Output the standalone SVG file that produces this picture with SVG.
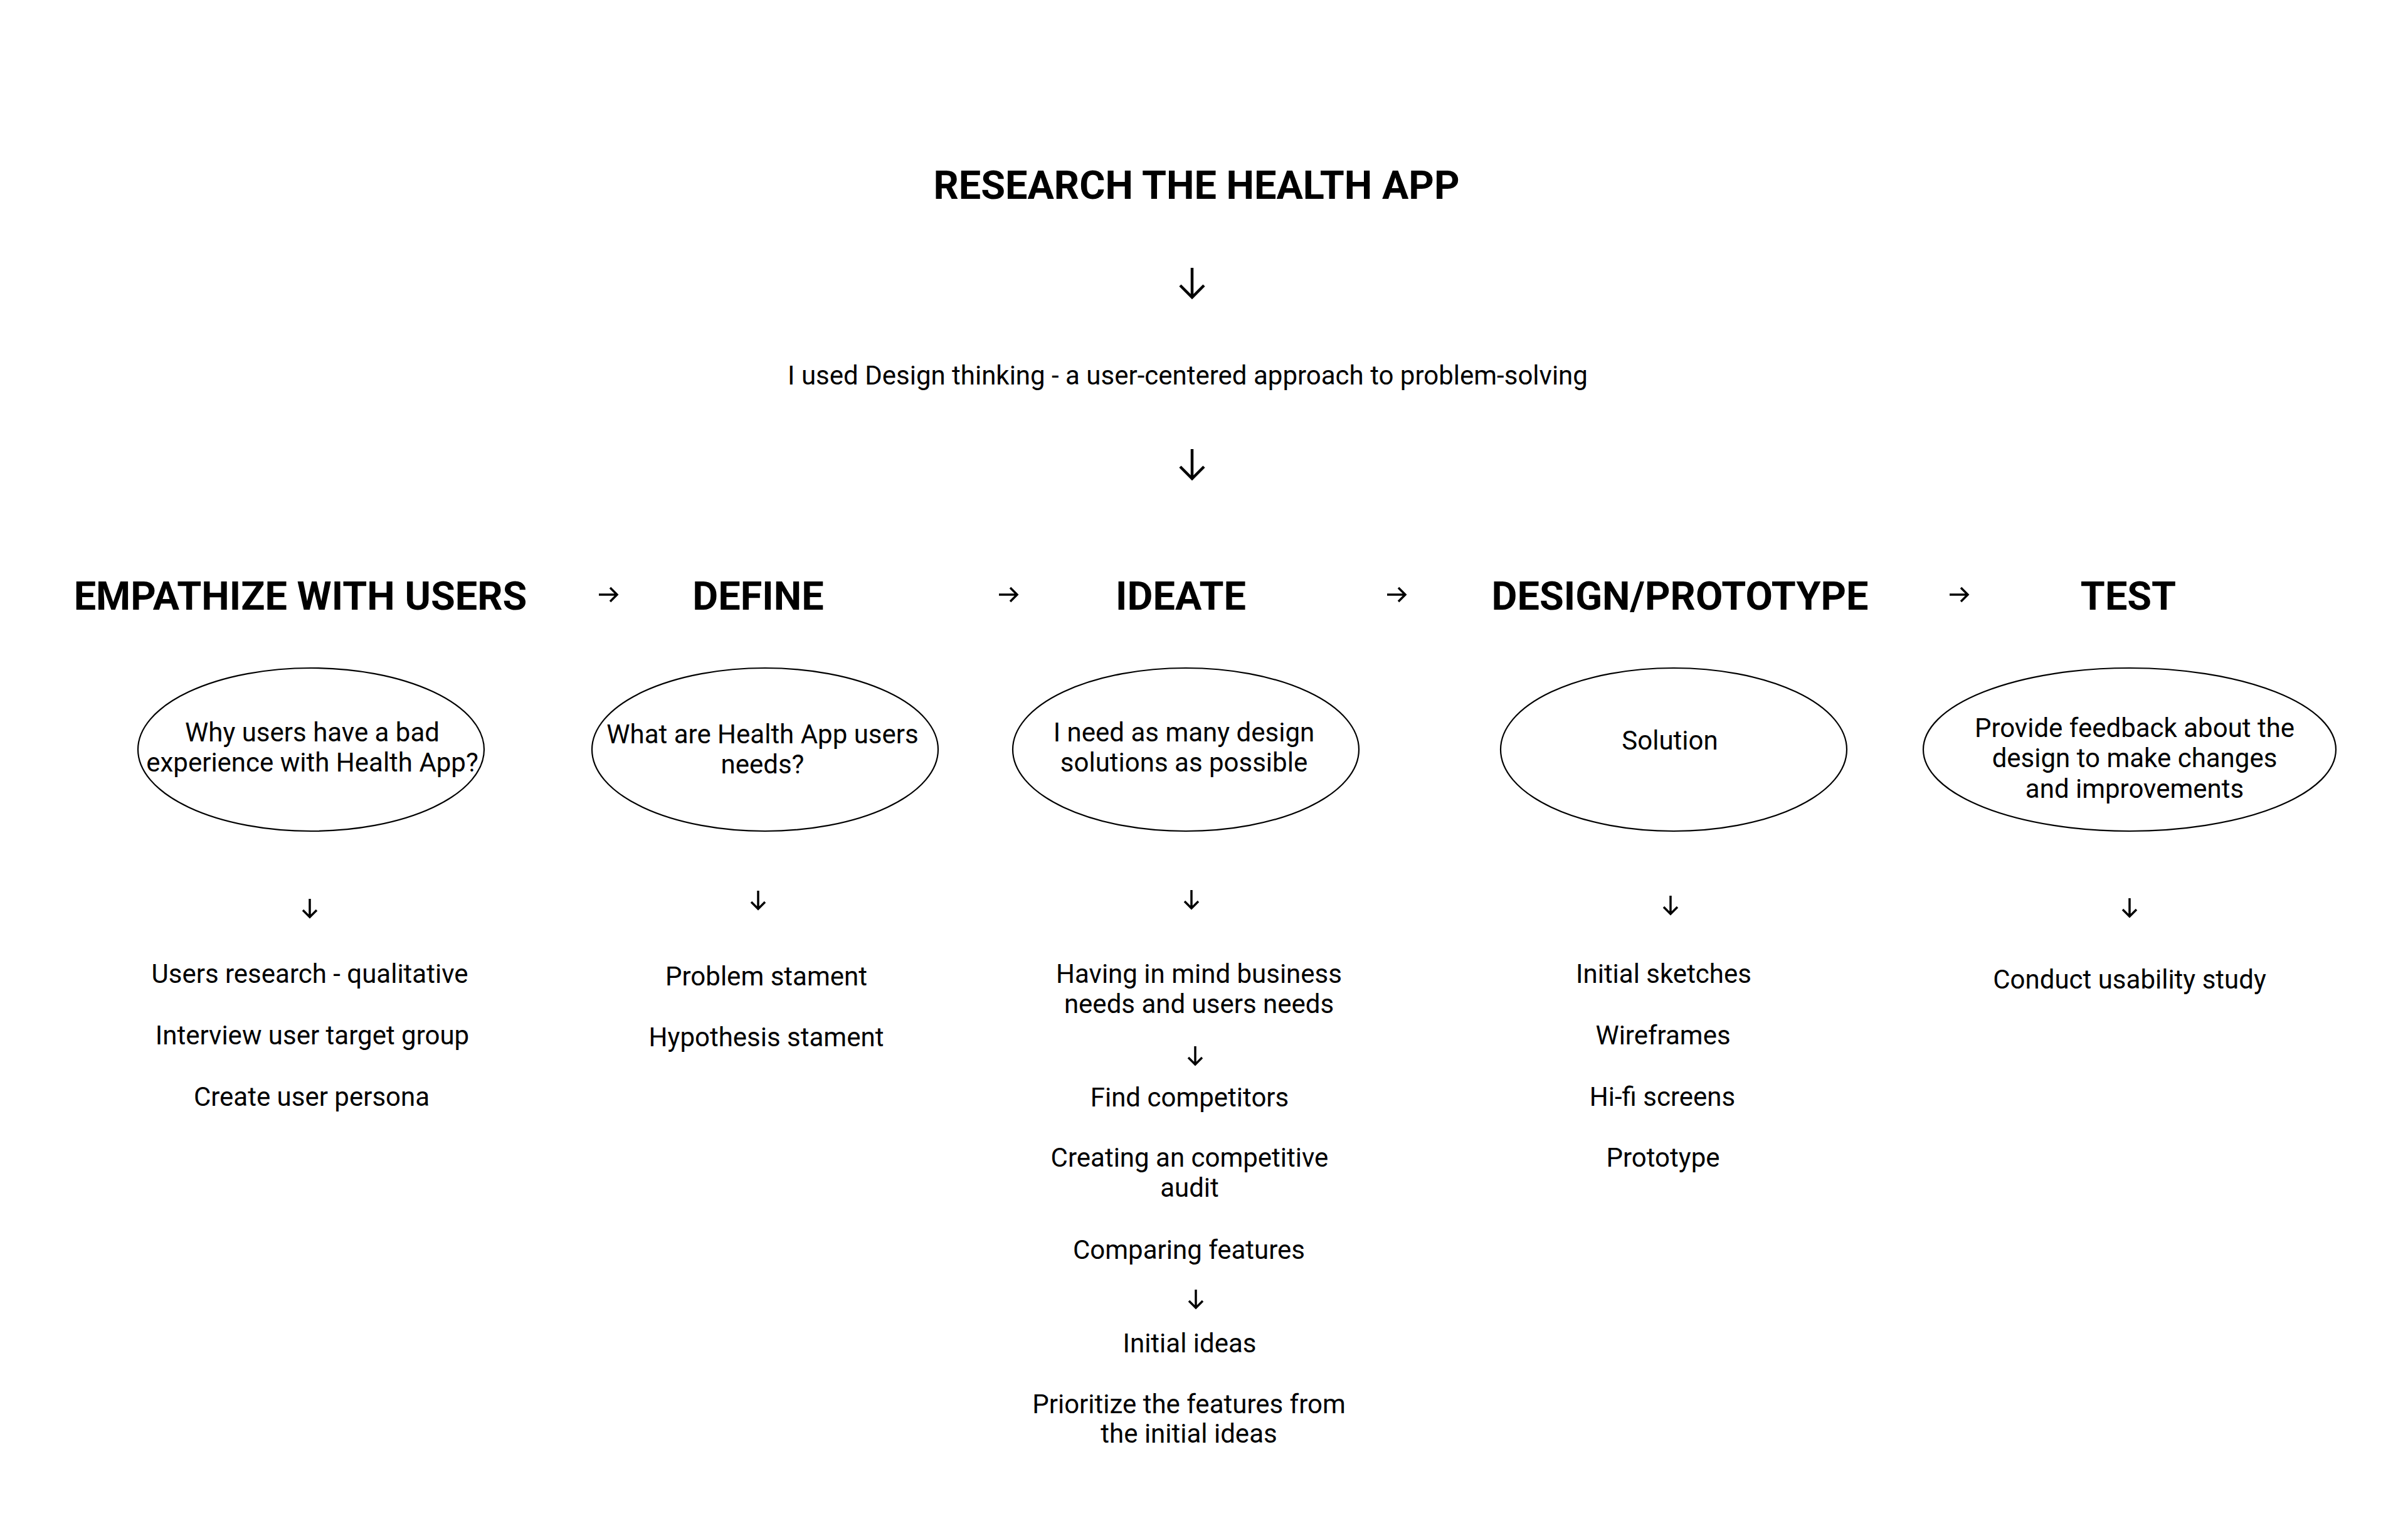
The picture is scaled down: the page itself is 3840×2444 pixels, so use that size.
<svg xmlns="http://www.w3.org/2000/svg" width="3840" height="2444" viewBox="0 0 3840 2444">
<style>
text{font-family:Roboto,"Liberation Sans",sans-serif;fill:#000;text-anchor:middle}
.h{font-size:63px;font-weight:700}
.t{font-size:42px}
.e{fill:#fff;stroke:#000;stroke-width:2.2}
.a{fill:none;stroke:#000;stroke-width:3.5;stroke-linecap:butt;stroke-linejoin:miter}
.A{fill:none;stroke:#000;stroke-width:4.5}
</style>
<rect width="3840" height="2444" fill="#fff"/>
<g id="title"><text class="h" x="1908" y="317">RESEARCH THE HEALTH APP</text></g>
<g id="subtitle"><text class="t" x="1894" y="613">I used Design thinking - a user-centered approach to problem-solving</text></g>
<g id="connectors">
<path class="A" d="M1901 427V472M1882 455L1901 474L1920 455"/>
<path class="A" d="M1901 716V761M1882 744L1901 763L1920 744"/>
<path class="a" d="M955 948H983M973 937L984 948L973 959"/>
<path class="a" d="M1593 948H1621M1611 937L1622 948L1611 959"/>
<path class="a" d="M2212 948H2240M2230 937L2241 948L2230 959"/>
<path class="a" d="M3109 948H3137M3127 937L3138 948L3127 959"/>
<path class="a" d="M494 1433V1462M483 1451L494 1462L505 1451"/>
<path class="a" d="M1209 1420V1449M1198 1438L1209 1449L1220 1438"/>
<path class="a" d="M1900 1419V1448M1889 1437L1900 1448L1911 1437"/>
<path class="a" d="M1906 1668V1697M1895 1686L1906 1697L1917 1686"/>
<path class="a" d="M1907 2056V2085M1896 2074L1907 2085L1918 2074"/>
<path class="a" d="M2664 1428V1457M2653 1446L2664 1457L2675 1446"/>
<path class="a" d="M3396 1432V1461M3385 1450L3396 1461L3407 1450"/>
</g>
<g id="empathize">
<text class="h" x="479" y="972">EMPATHIZE WITH USERS</text>
<ellipse class="e" cx="496" cy="1195" rx="276" ry="130"/>
<text class="t" x="498" y="1182">Why users have a bad</text>
<text class="t" x="498" y="1230">experience with Health App?</text>
<text class="t" x="494" y="1567">Users research - qualitative</text>
<text class="t" x="498" y="1665">Interview user target group</text>
<text class="t" x="497" y="1763">Create user persona</text>
</g>
<g id="define">
<text class="h" x="1209" y="972">DEFINE</text>
<ellipse class="e" cx="1220" cy="1195" rx="276" ry="130"/>
<text class="t" x="1216" y="1185">What are Health App users</text>
<text class="t" x="1216" y="1233">needs?</text>
<text class="t" x="1222" y="1571">Problem stament</text>
<text class="t" x="1222" y="1668">Hypothesis stament</text>
</g>
<g id="ideate">
<text class="h" x="1883" y="972">IDEATE</text>
<ellipse class="e" cx="1891" cy="1195" rx="276" ry="130"/>
<text class="t" x="1888" y="1182">I need as many design</text>
<text class="t" x="1888" y="1230">solutions as possible</text>
<text class="t" x="1912" y="1567">Having in mind business</text>
<text class="t" x="1912" y="1615">needs and users needs</text>
<text class="t" x="1897" y="1764">Find competitors</text>
<text class="t" x="1897" y="1860">Creating an competitive</text>
<text class="t" x="1897" y="1908">audit</text>
<text class="t" x="1896" y="2007">Comparing features</text>
<text class="t" x="1897" y="2156">Initial ideas</text>
<text class="t" x="1896" y="2253">Prioritize the features from</text>
<text class="t" x="1896" y="2300">the initial ideas</text>
</g>
<g id="design-prototype">
<text class="h" x="2679" y="972">DESIGN/PROTOTYPE</text>
<ellipse class="e" cx="2669" cy="1195" rx="276" ry="130"/>
<text class="t" x="2663" y="1195">Solution</text>
<text class="t" x="2653" y="1567">Initial sketches</text>
<text class="t" x="2652" y="1665">Wireframes</text>
<text class="t" x="2651" y="1763">Hi-fi screens</text>
<text class="t" x="2652" y="1860">Prototype</text>
</g>
<g id="test">
<text class="h" x="3394" y="972">TEST</text>
<ellipse class="e" cx="3396" cy="1195" rx="329" ry="130"/>
<text class="t" x="3404" y="1175">Provide feedback about the</text>
<text class="t" x="3404" y="1223">design to make changes</text>
<text class="t" x="3404" y="1272">and improvements</text>
<text class="t" x="3396" y="1576">Conduct usability study</text>
</g>
</svg>
